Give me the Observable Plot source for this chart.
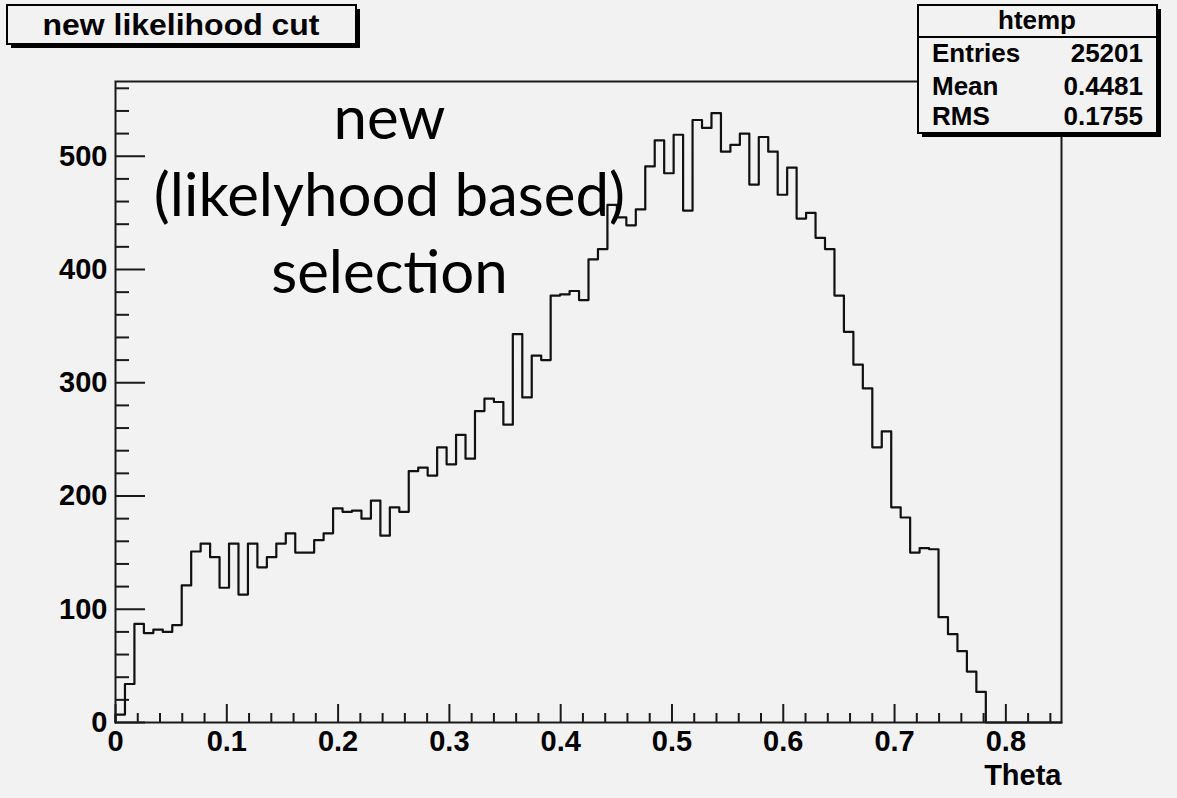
<!DOCTYPE html>
<html>
<head>
<meta charset="utf-8">
<script src="https://cdn.jsdelivr.net/npm/d3@7"></script>
<script src="https://cdn.jsdelivr.net/npm/@observablehq/plot@0.6"></script>
<style>
  html, body { margin: 0; padding: 0; background: #f2f2f2; }
  #chart { width: 1177px; height: 798px; }
  #chart svg { display: block; }
</style>
</head>
<body>
<div id="chart"></div>
<script>
// Theta distribution after the new likelihood cut: 100 bins over [0, 0.85]
const binLow = 0;
const binHigh = 0.85;
const counts = [
    7,  34,  87,  79,  82,  80,  86, 121, 151, 158,
  146, 119, 158, 113, 158, 137, 146, 158, 167, 150,
  150, 161, 167, 189, 186, 187, 180, 196, 165, 190,
  186, 222, 225, 218, 243, 228, 254, 233, 275, 286,
  283, 263, 343, 287, 324, 320, 377, 378, 381, 373,
  409, 418, 457, 446, 439, 453, 491, 514, 485, 519,
  452, 532, 525, 538, 504, 510, 520, 475, 517, 504,
  466, 490, 445, 450, 428, 418, 377, 345, 316, 295,
  243, 257, 190, 181, 150, 154, 153,  93,  78,  63,
   45,  27,   0,   0,   0,   0,   0,   0,   0,   0
];

const yMax = 566;
const xMajorTicks = [0, 0.1, 0.2, 0.3, 0.4, 0.5, 0.6, 0.7, 0.8];
const xMinorTicks = [0.02, 0.04, 0.06, 0.08, 0.12, 0.14, 0.16, 0.18, 0.22, 0.24, 0.26, 0.28,
  0.32, 0.34, 0.36, 0.38, 0.42, 0.44, 0.46, 0.48, 0.52, 0.54, 0.56, 0.58, 0.62, 0.64, 0.66, 0.68,
  0.72, 0.74, 0.76, 0.78, 0.82, 0.84];
const yMajorTicks = [0, 100, 200, 300, 400, 500];
const yMinorTicks = [20, 40, 60, 80, 120, 140, 160, 180, 220, 240, 260, 280, 320, 340, 360, 380,
  420, 440, 460, 480, 520, 540, 560];

const titleText = "new likelihood cut";
const xLabel = "Theta";
const histName = "htemp";
const statNames = ["Entries", "Mean", "RMS"];
const statValues = ["25201", "0.4481", "0.1755"];
const noteLines = ["new", "(likelyhood based)", "selection"];

// Canvas layout
const W = 1177, H = 798;
const mL = 115, mR = 116, mT = 81, mB = 76;
const innerW = W - mL - mR, innerH = H - mT - mB;
const bg = "#f2f2f2";
const ink = "#1a1a1a";

// Tick lengths (pixels) expressed in data units of the perpendicular scale
const xPerPx = (binHigh - binLow) / innerW;
const yPerPx = yMax / innerH;
const xTickMajor = 18 * yPerPx, xTickMinor = 9 * yPerPx;
const yTickMajor = 30 * xPerPx, yTickMinor = 14 * xPerPx;

// Step outline of the histogram
const nBins = counts.length;
const binWidth = (binHigh - binLow) / nBins;
const steps = [{x: binLow, y: 0}];
counts.forEach((c, i) => steps.push({x: binLow + i * binWidth, y: c}));
steps.push({x: binHigh, y: counts[nBins - 1]});

const plot = Plot.plot({
  width: W,
  height: H,
  marginLeft: mL, marginRight: mR, marginTop: mT, marginBottom: mB,
  style: {
    background: bg,
    color: "#000",
    fontFamily: "'Liberation Sans', Arial, sans-serif",
    fontWeight: "bold",
    fontSize: "29px"
  },
  x: {domain: [binLow, binHigh]},
  y: {domain: [0, yMax]},
  marks: [
    Plot.ruleX(xMajorTicks, {x: d => d, y1: 0, y2: xTickMajor, stroke: ink, strokeWidth: 2}),
    Plot.ruleX(xMinorTicks, {x: d => d, y1: 0, y2: xTickMinor, stroke: ink, strokeWidth: 2}),
    Plot.ruleY(yMajorTicks, {y: d => d, x1: 0, x2: yTickMajor, stroke: ink, strokeWidth: 2}),
    Plot.ruleY(yMinorTicks, {y: d => d, x1: 0, x2: yTickMinor, stroke: ink, strokeWidth: 2}),
    Plot.line(steps, {x: "x", y: "y", curve: "step-after", stroke: "#111", strokeWidth: 2.2}),
    Plot.frame({stroke: ink, strokeWidth: 2}),
    Plot.axisX(xMajorTicks, {tickSize: 0, tickPadding: 8, label: null, tickFormat: d => String(d)}),
    Plot.axisY(yMajorTicks, {tickSize: 0, tickPadding: 8, label: null, tickFormat: d => String(d)}),
    Plot.text([xLabel], {frameAnchor: "bottom-right", textAnchor: "end", lineAnchor: "bottom", dy: 62}),
    Plot.text([noteLines.join("\n")], {
      frameAnchor: "top-left", dx: 274, dy: 3,
      textAnchor: "middle", lineAnchor: "top",
      fontFamily: "Lato, 'Open Sans', sans-serif", fontWeight: "normal", fontSize: 60,
      lineHeight: 1.28, fill: "#000"
    })
  ]
});

document.getElementById("chart").appendChild(plot);

// Title and statistics boxes with drop shadows, drawn on top of the frame
const svg = d3.select(plot);
function shadowBox(x, y, w, h) {
  const g = svg.append("g").attr("text-anchor", "start");
  g.append("rect").attr("x", x + 4).attr("y", y + 4).attr("width", w).attr("height", h).attr("fill", "#000");
  g.append("rect").attr("x", x).attr("y", y).attr("width", w).attr("height", h)
    .attr("fill", bg).attr("stroke", "#000").attr("stroke-width", 2);
  return g;
}

const tBox = shadowBox(7, 5, 349, 39);
tBox.append("text").attr("x", 181).attr("y", 35).attr("text-anchor", "middle")
  .attr("font-size", 29).attr("font-weight", "bold")
  .attr("textLength", 277).attr("lengthAdjust", "spacingAndGlyphs")
  .text(titleText);

const sBox = shadowBox(918, 5, 239, 128);
sBox.append("line").attr("x1", 918).attr("x2", 1157).attr("y1", 37).attr("y2", 37)
  .attr("stroke", "#000").attr("stroke-width", 2);
sBox.append("text").attr("x", 1037).attr("y", 29).attr("text-anchor", "middle")
  .attr("font-size", 26).attr("font-weight", "bold").text(histName);
const rowY = [62, 95, 125];
statNames.forEach((name, i) => {
  sBox.append("text").attr("x", 932).attr("y", rowY[i]).attr("text-anchor", "start")
    .attr("font-size", 26).attr("font-weight", "bold").text(name);
  sBox.append("text").attr("x", 1143).attr("y", rowY[i]).attr("text-anchor", "end")
    .attr("font-size", 26).attr("font-weight", "bold").text(statValues[i]);
});
</script>
</body>
</html>
